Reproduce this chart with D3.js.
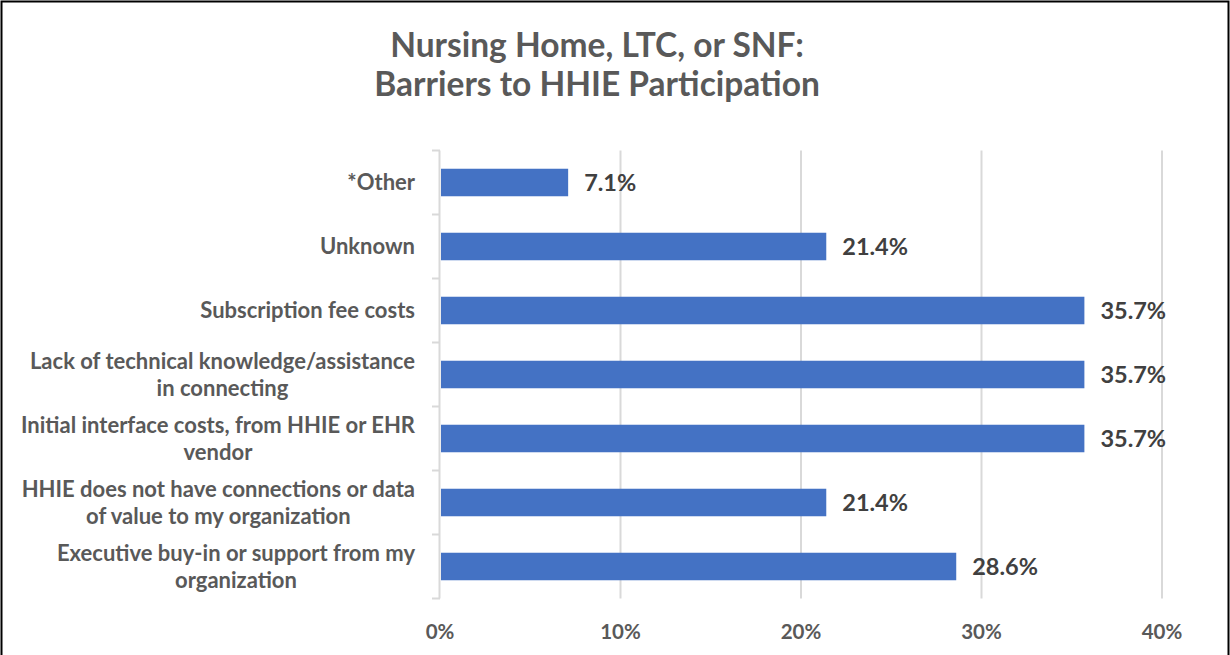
<!DOCTYPE html>
<html>
<head>
<meta charset="utf-8">
<script src="https://cdn.jsdelivr.net/npm/d3@7"></script>
<style>
  html, body { margin: 0; padding: 0; background: #fff; }
  svg { display: block; font-family: Lato, "Open Sans", sans-serif; }
</style>
</head>
<body>
<svg id="chart" width="1230" height="655"></svg>
<script>
// 数据
const titleLines = ["Nursing Home, LTC, or SNF:", "Barriers to HHIE Participation"];
const categories = [
    "*Other",
    "Unknown",
    "Subscription fee costs",
    "Lack of technical knowledge/assistance\nin connecting",
    "Initial interface costs, from HHIE or EHR\nvendor",
    "HHIE does not have connections or data\nof value to my organization",
    "Executive buy-in or support from my\norganization"
];
const values = [7.1, 21.4, 35.7, 35.7, 35.7, 21.4, 28.6];
const tickValues = [0, 10, 20, 30, 40];

const svg = d3.select("#chart");
const plot = { left: 440, right: 1162, top: 150.5, bottom: 598.5 };

// 外框
svg.append("rect")
    .attr("x", 1.5).attr("y", 1.5)
    .attr("width", 1227).attr("height", 700)
    .attr("fill", "#fff")
    .attr("stroke", "#000")
    .attr("stroke-width", 2);

// 标题
svg.append("g")
    .selectAll("text")
    .data(titleLines)
    .enter().append("text")
    .attr("x", 597)
    .attr("y", (d, i) => 57 + i * 38.5)
    .attr("text-anchor", "middle")
    .attr("font-size", 33.5)
    .attr("font-weight", 700)
    .attr("fill", "#595959")
    .text(d => d);

// 比例尺
const x = d3.scaleLinear().domain([0, 40]).range([plot.left, plot.right]);
const y = d3.scaleBand()
    .domain(categories)
    .range([plot.top, plot.bottom])
    .paddingInner(0.57)
    .paddingOuter(0.285);

// 网格线
svg.append("g")
    .selectAll("line")
    .data(tickValues.filter(d => d > 0))
    .enter().append("line")
    .attr("x1", d => x(d)).attr("x2", d => x(d))
    .attr("y1", plot.top).attr("y2", plot.bottom)
    .attr("stroke", "#d9d9d9")
    .attr("stroke-width", 2);

// 纵轴 (带分类分隔刻度)
const yAxis = svg.append("g").attr("class", "y-axis");
yAxis.append("line")
    .attr("x1", plot.left - 0.5).attr("x2", plot.left - 0.5)
    .attr("y1", plot.top).attr("y2", plot.bottom)
    .attr("stroke", "#d9d9d9").attr("stroke-width", 2);
const step = y.step();
yAxis.selectAll(".sep")
    .data(d3.range(categories.length + 1))
    .enter().append("line")
    .attr("class", "sep")
    .attr("x1", plot.left - 8).attr("x2", plot.left)
    .attr("y1", i => plot.top + i * step)
    .attr("y2", i => plot.top + i * step)
    .attr("stroke", "#d9d9d9").attr("stroke-width", 2);

// 条形
svg.append("g")
    .selectAll("rect")
    .data(categories)
    .enter().append("rect")
    .attr("x", x(0) + 1)
    .attr("y", d => y(d))
    .attr("width", (d, i) => x(values[i]) - x(0) - 1)
    .attr("height", y.bandwidth())
    .attr("fill", "#4472c4");

// 数值标签
svg.append("g")
    .selectAll("text")
    .data(categories)
    .enter().append("text")
    .attr("x", (d, i) => x(values[i]) + 16)
    .attr("y", d => y(d) + y.bandwidth() / 2)
    .attr("dy", "0.36em")
    .attr("font-size", 23.5)
    .attr("font-weight", 700)
    .attr("fill", "#404040")
    .text((d, i) => values[i].toFixed(1) + "%");

// 分类标签 (多行居中, 整体右对齐)
const labelRight = 415;
const lineH = 26.7;
const catLabels = svg.append("g")
    .selectAll("text")
    .data(categories)
    .enter().append("text")
    .attr("font-size", 22)
    .attr("font-weight", 700)
    .attr("fill", "#595959")
    .attr("text-anchor", "middle");

catLabels.each(function(d) {
    const lines = d.split("\n");
    const t = d3.select(this);
    const cy = y(d) + y.bandwidth() / 2;
    const spans = t.selectAll("tspan")
        .data(lines)
        .enter().append("tspan")
        .attr("y", (l, i) => cy + (i - (lines.length - 1) / 2) * lineH)
        .attr("dy", "0.36em")
        .text(l => l);
    let maxW = 0;
    spans.each(function() { maxW = Math.max(maxW, this.getComputedTextLength()); });
    spans.attr("x", labelRight - maxW / 2);
});

// 横轴标签
svg.append("g")
    .selectAll("text")
    .data(tickValues)
    .enter().append("text")
    .attr("x", d => x(d))
    .attr("y", 632)
    .attr("dy", "0.36em")
    .attr("text-anchor", "middle")
    .attr("font-size", 20.5)
    .attr("font-weight", 700)
    .attr("fill", "#595959")
    .text(d => d + "%");
</script>
</body>
</html>
